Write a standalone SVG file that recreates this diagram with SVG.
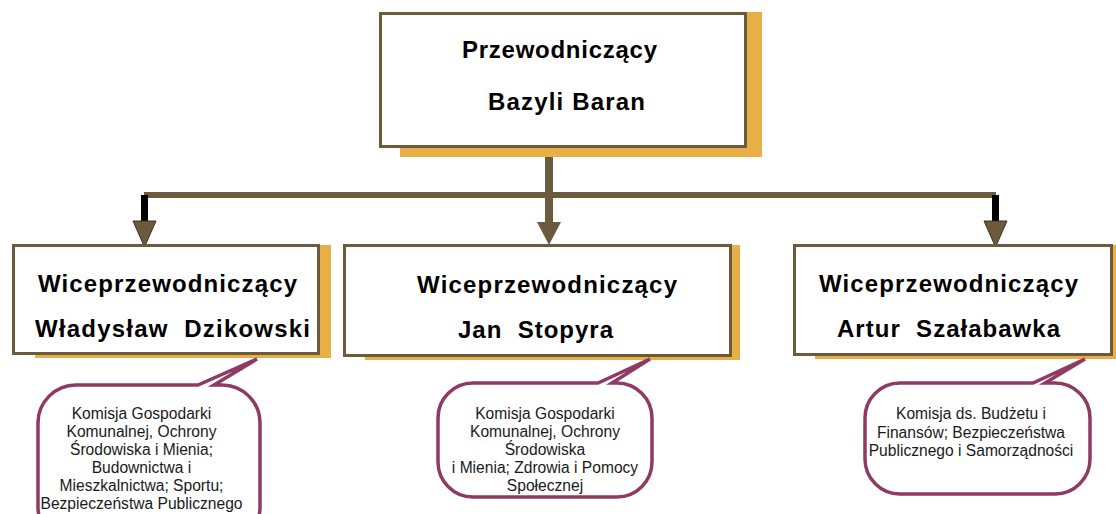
<svg xmlns="http://www.w3.org/2000/svg" width="1116" height="514" viewBox="0 0 1116 514">
<style>
.shadow{fill:#E9AF47}
.box{fill:#fff;stroke:#6B5A3B;stroke-width:3}
.title{font-family:"Liberation Sans",Arial,sans-serif;font-weight:bold;font-size:24px;fill:#000}
.bubble{fill:#fff;stroke:#8E3A63;stroke-width:3.5;stroke-linejoin:miter}
.note{font-family:"Liberation Sans",Arial,sans-serif;font-size:15.6px;fill:#1a1a1a;text-anchor:middle}
.bar{fill:#6B5A3B}
.blk{fill:#000}
.head{fill:#6B5A3B;stroke:#3a3020;stroke-width:1}
</style>
<g id="connectors">
<rect class="bar" x="545" y="157" width="8" height="66"/>
<polygon class="bar" points="537,222 561,222 549,245"/>
<rect class="bar" x="144" y="192" width="852" height="6"/>
<rect class="blk" x="141" y="195" width="7" height="27"/>
<polygon class="head" points="133,221 156,221 144.5,247"/>
<rect class="blk" x="992" y="195" width="7" height="27"/>
<polygon class="head" points="984,221 1007,221 995.5,247"/>
</g>
<g id="chair">
<rect class="shadow" x="400" y="12" width="362" height="145"/>
<rect class="box" x="380.5" y="13.5" width="365" height="133"/>
<text class="title" x="462" y="58" textLength="195" lengthAdjust="spacing">Przewodniczący</text>
<text class="title" x="488" y="110" textLength="157" lengthAdjust="spacing">Bazyli Baran</text>
</g>
<g id="vice1">
<rect class="shadow" x="35" y="245" width="296" height="113"/>
<rect class="box" x="13.5" y="245.5" width="305" height="108"/>
<text class="title" x="38" y="292" textLength="259" lengthAdjust="spacing">Wiceprzewodniczący</text>
<text class="title" x="35" y="337" textLength="275" lengthAdjust="spacing" xml:space="preserve">Władysław  Dzikowski</text>
</g>
<g id="vice2">
<rect class="shadow" x="365" y="245" width="375" height="115"/>
<rect class="box" x="344.5" y="245.5" width="386" height="110"/>
<text class="title" x="417" y="293" textLength="260" lengthAdjust="spacing">Wiceprzewodniczący</text>
<text class="title" x="458" y="338" textLength="155" lengthAdjust="spacing" xml:space="preserve">Jan  Stopyra</text>
</g>
<g id="vice3">
<rect class="shadow" x="815" y="245" width="310" height="114"/>
<rect class="box" x="794.5" y="245.5" width="317" height="109"/>
<text class="title" x="819" y="292" textLength="259" lengthAdjust="spacing">Wiceprzewodniczący</text>
<text class="title" x="837" y="337" textLength="223" lengthAdjust="spacing" xml:space="preserve">Artur  Szałabawka</text>
</g>
<g id="note1">
<path class="bubble" d="M76,385 L198,385 L257,359 L214,385 L222,385 A38,38 0 0 1 260,423 L260,507 A38,38 0 0 1 222,545 L76,545 A38,38 0 0 1 38,507 L38,423 A38,38 0 0 1 76,385 Z"/>
<text class="note" x="141.5" y="419">Komisja Gospodarki</text>
<text class="note" x="141.5" y="437">Komunalnej, Ochrony</text>
<text class="note" x="141.5" y="455">Środowiska i Mienia;</text>
<text class="note" x="141.5" y="473">Budownictwa i</text>
<text class="note" x="141.5" y="491">Mieszkalnictwa; Sportu;</text>
<text class="note" x="141.5" y="509">Bezpieczeństwa Publicznego</text>
</g>
<g id="note2">
<path class="bubble" d="M473,383 L598,383 L650,359 L612,383 L617,383 A35,35 0 0 1 652,418 L652,462 A35,35 0 0 1 617,497 L473,497 A35,35 0 0 1 438,462 L438,418 A35,35 0 0 1 473,383 Z"/>
<text class="note" x="545" y="419">Komisja Gospodarki</text>
<text class="note" x="545" y="437">Komunalnej, Ochrony</text>
<text class="note" x="545" y="455">Środowiska</text>
<text class="note" x="545" y="473">i Mienia; Zdrowia i Pomocy</text>
<text class="note" x="545" y="491">Społecznej</text>
</g>
<g id="note3">
<path class="bubble" d="M900,383 L1033,383 L1085,359 L1045,383 L1055,383 A35,35 0 0 1 1090,418 L1090,459 A35,35 0 0 1 1055,494 L900,494 A35,35 0 0 1 865,459 L865,418 A35,35 0 0 1 900,383 Z"/>
<text class="note" x="971" y="419">Komisja ds. Budżetu i</text>
<text class="note" x="971" y="437.5">Finansów; Bezpieczeństwa</text>
<text class="note" x="971" y="456">Publicznego i Samorządności</text>
</g>
</svg>
